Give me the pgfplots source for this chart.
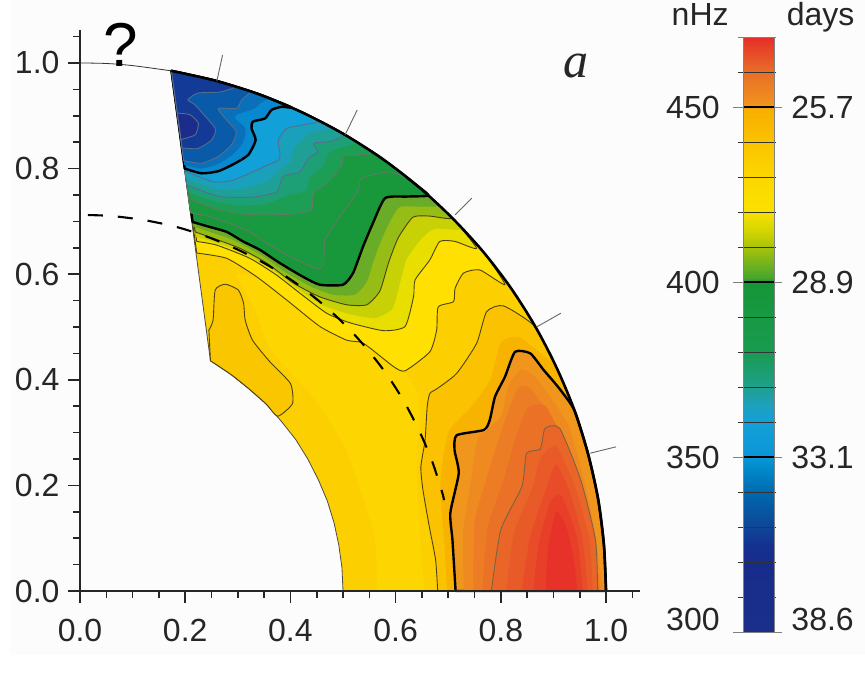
\documentclass[border=0pt]{standalone}
\usepackage{fontspec}
\setmainfont{Liberation Sans}
\newfontfamily\serifit{Liberation Serif}
\usepackage{pgfplots}
\pgfplotsset{compat=1.18}
\newcommand\lab{\fontsize{32}{34}\selectfont}
\definecolor{lnY}{RGB}{75,65,20}
\definecolor{lnG}{RGB}{100,120,100}
\definecolor{lnB}{RGB}{85,110,140}
\definecolor{lnR}{RGB}{120,100,70}
\pgfplotsset{
  thin contour/.style={draw=#1, line width=0.9pt, line join=round},
  thick contour/.style={draw=black, line width=2.4pt, line join=round},
  zone/.style={smooth, tension=0.35},
}
\begin{document}
\begin{tikzpicture}
\path[use as bounding box] (0,0) rectangle (865pt,683pt);
\fill[color={rgb,255:red,252;green,252;blue,252}] (10pt,28pt) rectangle (865pt,683pt);
\begin{axis}[
  at={(80pt,92pt)}, anchor=south west, scale only axis,
  width=559.7pt, height=561.3pt,
  xmin=0, xmax=1.064, ymin=0, ymax=1.063,
  axis x line=bottom, axis y line=left,
  axis line style={-, line width=2pt, color=black!85},
  tick align=outside, axis on top, clip=false,
  xtick={0,0.2,0.4,0.6,0.8,1.0}, ytick={0,0.2,0.4,0.6,0.8,1.0},
  minor xtick={0.05,0.1,0.15,0.25,0.3,0.35,0.45,0.5,0.55,0.65,0.7,0.75,0.85,0.9,0.95,1.05},
  minor ytick={0.05,0.1,0.15,0.25,0.3,0.35,0.45,0.5,0.55,0.65,0.7,0.75,0.85,0.9,0.95,1.05},
  major tick length=12pt, minor tick length=7pt,
  tick style={line width=1.6pt, color=black!85},
  /pgf/number format/assume math mode=true,
  /pgf/number format/fixed, /pgf/number format/fixed zerofill, /pgf/number format/precision=1,
  ticklabel style={font=\lab, color=black!85},
  xticklabel style={yshift=-13pt},
  yticklabel style={xshift=-5pt},
]
% whole wedge
\addplot[fill={rgb,255:red,252;green,207;blue,0}, draw=black!70, line width=0.8pt, line join=round] coordinates {
 (.5,0)(1,0)(.996,.087)(.985,.174)(.966,.259)(.940,.342)(.906,.423)(.866,.5)(.819,.574)(.766,.643)(.707,.707)(.643,.766)(.574,.819)(.5,.866)(.423,.906)(.342,.940)(.259,.966)(.174,.985)
 (.248,.436)(.287,.410)(.321,.383)(.354,.354)(.383,.321)(.410,.287)(.433,.25)(.453,.211)(.470,.171)(.483,.129)(.492,.087)(.498,.044)} --cycle;
% brighter yellow belt
\addplot[zone, fill={rgb,255:red,253;green,213;blue,0}, draw=none] coordinates {
 (.565,0)(.56,.10)(.53,.20)(.50,.28)(.44,.37)(.36,.46)(.33,.54)(.30,.60)(.42,.56)(.62,.41)(.645,.35)(.64,.24)(.645,.12)(.655,0)} --cycle;
% inner lobe 440
\addplot[zone, fill={rgb,255:red,249;green,198;blue,0}, thin contour=lnY] coordinates {
 (.245,.494)(.253,.513)(.257,.570)(.276,.581)(.301,.570)(.311,.545)(.314,.513)(.328,.475)(.361,.434)(.400,.393)(.404,.355)(.376,.331)(.354,.354)(.321,.383)(.287,.410)(.248,.436)} --cycle;
% 440
\addplot[zone, fill={rgb,255:red,250;green,194;blue,0}, thin contour=lnY] coordinates {
 (.680,0)(.676,.059)(.664,.122)(.652,.191)(.648,.235)(.656,.286)(.660,.349)(.665,.374)(.680,.384)(.716,.412)(.754,.469)(.773,.529)(.805,.540)(.866,.500)(.906,.423)(.940,.342)(.966,.259)(.985,.174)(.996,.087)(1,0)} --cycle;
% 445
\addplot[zone, fill={rgb,255:red,248;green,178;blue,0}, draw=none] coordinates {
 (.698,0)(.692,.10)(.685,.20)(.70,.30)(.745,.35)(.78,.40)(.80,.47)(.835,.48)(.906,.423)(.940,.342)(.966,.259)(.985,.174)(.996,.087)(1,0)} --cycle;
% 450
\addplot[zone, fill={rgb,255:red,241;green,150;blue,28}, thick contour] coordinates {
 (.714,0)(.708,.097)(.704,.148)(.720,.223)(.712,.267)(.716,.295)(.768,.305)(.779,.324)(.789,.368)(.808,.406)(.827,.453)(.856,.450)(.881,.419)(.91,.385)(.940,.342)(.966,.259)(.985,.174)(.996,.087)(1,0)} --cycle;
% 453, 455, 457
\addplot[zone, fill={rgb,255:red,239;green,138;blue,32}, draw=none] coordinates {
 (.730,0)(.728,.11)(.745,.22)(.757,.29)(.80,.33)(.815,.39)(.84,.42)(.87,.40)(.93,.31)(.97,.16)(.995,0)} --cycle;
\addplot[zone, fill={rgb,255:red,237;green,125;blue,36}, draw=none] coordinates {
 (.748,0)(.75,.13)(.775,.22)(.80,.30)(.83,.38)(.855,.385)(.90,.32)(.94,.23)(.975,.10)(.99,0)} --cycle;
\addplot[zone, fill={rgb,255:red,235;green,113;blue,38}, draw=none] coordinates {
 (.765,0)(.775,.12)(.805,.21)(.825,.28)(.85,.345)(.885,.35)(.925,.27)(.965,.13)(.987,0)} --cycle;
% 460
\addplot[zone, fill={rgb,255:red,233;green,102;blue,40}, thin contour=lnR] coordinates {
 (.782,0)(.800,.116)(.840,.198)(.849,.261)(.875,.269)(.884,.308)(.912,.308)(.952,.210)(.980,.097)(.984,0)} --cycle;
% 463 to 468
\addplot[zone, fill={rgb,255:red,232;green,90;blue,40}, draw=none] coordinates {
 (.81,0)(.825,.11)(.86,.195)(.875,.25)(.905,.275)(.94,.20)(.968,.10)(.975,0)} --cycle;
\addplot[zone, fill={rgb,255:red,232;green,76;blue,40}, draw=none] coordinates {
 (.84,0)(.855,.10)(.885,.19)(.905,.24)(.93,.19)(.955,.10)(.965,0)} --cycle;
\addplot[zone, fill={rgb,255:red,231;green,63;blue,40}, draw=none] coordinates {
 (.862,0)(.872,.09)(.895,.17)(.915,.18)(.945,.10)(.955,0)} --cycle;
\addplot[zone, fill={rgb,255:red,230;green,50;blue,40}, draw=none] coordinates {
 (.885,0)(.89,.08)(.905,.15)(.925,.12)(.94,.05)(.945,0)} --cycle;
% 430
\addplot[zone, fill={rgb,255:red,255;green,224;blue,0}, thin contour=lnY] coordinates {
 (.222,.640)(.279,.630)(.336,.595)(.393,.551)(.456,.501)(.507,.475)(.539,.469)(.596,.425)(.618,.417)(.665,.453)(.678,.494)(.681,.538)(.710,.548)(.713,.573)(.729,.602)(.760,.608)(.808,.580)
 (.766,.643)(.707,.707)(.643,.766)(.574,.819)(.5,.866)(.423,.906)(.342,.940)(.259,.966)(.174,.985)} --cycle;
% 420
\addplot[zone, fill={rgb,255:red,232;green,222;blue,0}, thin contour=lnY] coordinates {
 (.222,.662)(.260,.655)(.323,.630)(.374,.598)(.418,.564)(.469,.526)(.513,.508)(.577,.493)(.618,.501)(.634,.557)(.637,.589)(.665,.627)(.684,.662)(.713,.662)(.754,.649)
 (.707,.707)(.643,.766)(.574,.819)(.5,.866)(.423,.906)(.342,.940)(.259,.966)(.174,.985)} --cycle;
% 415
\addplot[zone, fill={rgb,255:red,200;green,208;blue,6}, draw=none] coordinates {
 (.220,.671)(.256,.661)(.313,.640)(.364,.610)(.412,.574)(.462,.541)(.510,.525)(.561,.517)(.594,.535)(.610,.590)(.621,.629)(.649,.667)(.674,.686)(.729,.684)
 (.707,.707)(.643,.766)(.574,.819)(.5,.866)(.423,.906)(.342,.940)(.259,.966)(.174,.985)} --cycle;
% 410
\addplot[zone, fill={rgb,255:red,150;green,188;blue,22}, thin contour=lnY] coordinates {
 (.219,.680)(.253,.668)(.304,.649)(.355,.621)(.406,.583)(.456,.557)(.507,.542)(.545,.542)(.570,.568)(.587,.623)(.605,.669)(.633,.708)(.665,.710)(.707,.707)
 (.643,.766)(.574,.819)(.5,.866)(.423,.906)(.342,.940)(.259,.966)(.174,.985)} --cycle;
% 405
\addplot[zone, fill={rgb,255:red,105;green,172;blue,40}, draw=none] coordinates {
 (.216,.690)(.247,.680)(.291,.665)(.348,.634)(.393,.602)(.440,.576)(.482,.561)(.522,.561)(.545,.585)(.562,.637)(.581,.683)(.606,.726)(.643,.728)(.683,.730)
 (.643,.766)(.574,.819)(.5,.866)(.423,.906)(.342,.940)(.259,.966)(.174,.985)} --cycle;
% 400
\addplot[zone, fill={rgb,255:red,24;green,152;blue,58}, thick contour] coordinates {
 (.214,.699)(.241,.691)(.279,.680)(.310,.662)(.342,.646)(.380,.621)(.424,.595)(.456,.580)(.500,.580)(.519,.602)(.538,.652)(.557,.697)(.580,.744)(.621,.747)(.662,.749)
 (.643,.766)(.574,.819)(.5,.866)(.423,.906)(.342,.940)(.259,.966)(.174,.985)} --cycle;
% 390
\addplot[zone, fill={rgb,255:red,25;green,154;blue,64}, thin contour=lnG] coordinates {
 (.210,.716)(.247,.709)(.285,.696)(.323,.680)(.361,.655)(.406,.630)(.450,.611)(.463,.617)(.466,.665)(.494,.709)(.513,.735)(.529,.759)(.536,.782)(.589,.794)(.624,.781)
 (.574,.819)(.5,.866)(.423,.906)(.342,.940)(.259,.966)(.174,.985)} --cycle;
% 380
\addplot[zone, fill={rgb,255:red,28;green,158;blue,84}, thin contour=lnG] coordinates {
 (.212,.741)(.253,.725)(.298,.715)(.342,.712)(.405,.714)(.440,.722)(.444,.753)(.469,.772)(.498,.806)(.501,.823)(.532,.826)(.553,.831)
 (.5,.866)(.423,.906)(.342,.940)(.259,.966)(.174,.985)} --cycle;
% 375
\addplot[zone, fill={rgb,255:red,30;green,160;blue,118}, draw=none] coordinates {
 (.207,.755)(.260,.736)(.314,.730)(.358,.734)(.396,.750)(.429,.758)(.439,.786)(.460,.802)(.471,.827)(.488,.837)(.526,.849)
 (.5,.866)(.423,.906)(.342,.940)(.259,.966)(.174,.985)} --cycle;
% 370
\addplot[zone, fill={rgb,255:red,30;green,160;blue,150}, thin contour=lnB] coordinates {
 (.203,.769)(.266,.747)(.329,.746)(.374,.756)(.386,.785)(.418,.794)(.434,.819)(.452,.832)(.444,.848)(.475,.851)(.501,.866)
 (.423,.906)(.342,.940)(.259,.966)(.174,.985)} --cycle;
% 365
\addplot[zone, fill={rgb,255:red,26;green,160;blue,186}, draw=none] coordinates {
 (.201,.782)(.260,.761)(.310,.762)(.358,.778)(.381,.800)(.399,.812)(.406,.836)(.422,.854)(.434,.866)(.479,.878)
 (.423,.906)(.342,.940)(.259,.966)(.174,.985)} --cycle;
% 360
\addplot[zone, fill={rgb,255:red,18;green,160;blue,216}, thin contour=lnB] coordinates {
 (.200,.795)(.253,.775)(.291,.778)(.342,.800)(.377,.816)(.380,.829)(.377,.854)(.393,.876)(.425,.883)(.456,.890)
 (.423,.906)(.342,.940)(.259,.966)(.174,.985)} --cycle;
% 350
\addplot[zone, fill={rgb,255:red,8;green,136;blue,206}, thick contour] coordinates {
 (.199,.800)(.231,.791)(.263,.795)(.295,.810)(.320,.826)(.334,.854)(.326,.876)(.329,.889)(.352,.895)(.364,.911)(.383,.917)(.402,.916)
 (.342,.940)(.259,.966)(.174,.985)} --cycle;
% 345
\addplot[zone, fill={rgb,255:red,10;green,112;blue,186}, draw=none] coordinates {
 (.198,.807)(.231,.80)(.263,.809)(.292,.828)(.309,.848)(.315,.875)(.295,.895)(.300,.903)(.330,.913)(.345,.925)(.362,.934)
 (.342,.940)(.259,.966)(.174,.985)} --cycle;
% 340
\addplot[zone, fill={rgb,255:red,10;green,90;blue,170}, thin contour=lnB] coordinates {
 (.197,.815)(.231,.810)(.263,.823)(.288,.845)(.297,.870)(.276,.895)(.263,.914)(.298,.914)(.307,.930)(.322,.947)
 (.259,.966)(.174,.985)} --cycle;
% 330
\addplot[zone, fill={rgb,255:red,18;green,58;blue,150}, thin contour=lnB] coordinates {
 (.194,.839)(.224,.838)(.250,.854)(.257,.876)(.219,.920)(.205,.930)(.224,.943)(.266,.945)(.295,.955)
 (.259,.966)(.174,.985)} --cycle;
% 320
\addplot[zone, fill={rgb,255:red,27;green,44;blue,138}, thin contour=lnB] coordinates {
 (.192,.855)(.219,.864)(.225,.886)(.209,.902)(.185,.905)} --cycle;
% rim and continuation
\addplot[black, line width=2.6pt, smooth, line cap=round] coordinates {
 (1,0)(.996,.087)(.985,.174)(.966,.259)(.940,.342)(.906,.423)(.866,.5)(.819,.574)(.766,.643)(.707,.707)(.643,.766)(.574,.819)(.5,.866)(.423,.906)(.342,.940)(.259,.966)(.174,.985)};
\addplot[black!80, line width=0.8pt, smooth] coordinates {(0,1)(.05,.999)(.10,.995)(.174,.985)};
% tachocline
\addplot[black, line width=2.1pt, smooth, dash pattern=on 15pt off 15pt] coordinates {
 (.015,.712)(.062,.710)(.124,.702)(.185,.689)(.244,.670)(.301,.646)(.357,.617)(.409,.584)(.458,.546)(.504,.504)(.546,.458)(.584,.409)(.617,.357)(.646,.301)(.670,.244)(.689,.185)(.692,.172)};
% latitude marks
\addplot[black!60, line width=0.9pt] coordinates {(.260,.965)(.271,1.015)};
\addplot[black!60, line width=0.9pt] coordinates {(.504,.864)(.527,.911)};
\addplot[black!60, line width=0.9pt] coordinates {(.713,.712)(.745,.744)};
\addplot[black!60, line width=0.9pt] coordinates {(.868,.5)(.914,.526)};
\addplot[black!60, line width=0.9pt] coordinates {(.970,.261)(1.019,.273)};
\node[font=\fontsize{62}{64}\selectfont] at (axis cs:.078,1.034) {?};
\node[font=\serifit\itshape\fontsize{50}{52}\selectfont, color=black!85] at (axis cs:.943,.995) {a};
\end{axis}
\begin{axis}[
  at={(743pt,51pt)}, anchor=south west, scale only axis,
  width=31pt, height=595pt,
  xmin=0, xmax=1, ymin=300, ymax=470,
  hide axis, clip=false, unbounded coords=jump,
  colormap={sun}{rgb255(300)=(26,46,138) rgb255(320)=(24,44,140) rgb255(325)=(20,50,145) rgb255(330)=(14,70,150) rgb255(340)=(0,105,175) rgb255(346)=(0,135,200) rgb255(350)=(10,150,215) rgb255(360)=(20,160,215) rgb255(365)=(30,160,190) rgb255(370)=(30,160,140) rgb255(380)=(25,155,80) rgb255(400)=(22,150,55) rgb255(401)=(70,165,45) rgb255(410)=(170,195,10) rgb255(415)=(215,215,0) rgb255(420)=(250,225,0) rgb255(430)=(252,215,0) rgb255(440)=(250,195,0) rgb255(449)=(248,175,0) rgb255(451)=(240,145,30) rgb255(460)=(232,110,40) rgb255(470)=(230,45,40)},
  point meta min=300, point meta max=470,
]
\addplot[surf, shader=interp, mesh/cols=2, mesh/ordering=x varies, point meta=y] coordinates {
(0,300)(1,300)(0,305)(1,305)(0,310)(1,310)(0,315)(1,315)(0,320)(1,320)(0,322)(1,322)(0,324)(1,324)(0,326)(1,326)(0,328)(1,328)(0,330)(1,330)
(0,332)(1,332)(0,334)(1,334)(0,336)(1,336)(0,338)(1,338)(0,340)(1,340)(0,342)(1,342)(0,344)(1,344)(0,346)(1,346)(0,348)(1,348)(0,350)(1,350)
(0,352)(1,352)(0,354)(1,354)(0,356)(1,356)(0,358)(1,358)(0,360)(1,360)(0,362)(1,362)(0,364)(1,364)(0,366)(1,366)(0,368)(1,368)(0,370)(1,370)
(0,372)(1,372)(0,374)(1,374)(0,376)(1,376)(0,378)(1,378)(0,380)(1,380)(0,385)(1,385)(0,390)(1,390)(0,395)(1,395)(0,400)(1,400)
(0,401)(1,401)(0,403)(1,403)(0,405)(1,405)(0,407)(1,407)(0,409)(1,409)(0,411)(1,411)(0,413)(1,413)(0,415)(1,415)(0,417)(1,417)(0,419)(1,419)(0,421)(1,421)
(0,425)(1,425)(0,430)(1,430)(0,435)(1,435)(0,440)(1,440)(0,445)(1,445)(0,449)(1,449)(0,451)(1,451)(0,453)(1,453)(0,455)(1,455)(0,457)(1,457)(0,459)(1,459)
(0,461)(1,461)(0,463)(1,463)(0,465)(1,465)(0,467)(1,467)(0,470)(1,470)};
\addplot[black!50, line width=0.8pt] coordinates {(-.17,470)(1.08,470)};
\addplot[black!80, line width=0.9pt] coordinates {(-.17,310)(1.08,310)(nan,nan)(-.17,320)(1.08,320)(nan,nan)(-.17,330)(1.08,330)(nan,nan)(-.17,340)(1.08,340)(nan,nan)(-.17,360)(1.08,360)(nan,nan)(-.17,370)(1.08,370)(nan,nan)(-.17,380)(1.08,380)(nan,nan)(-.17,390)(1.08,390)(nan,nan)(-.17,410)(1.08,410)(nan,nan)(-.17,420)(1.08,420)(nan,nan)(-.17,430)(1.08,430)(nan,nan)(-.17,440)(1.08,440)(nan,nan)(-.17,460)(1.08,460)};
\addplot[black!50, line width=0.9pt] coordinates {(-.32,300)(1.25,300)(nan,nan)(-.32,350)(1.25,350)(nan,nan)(-.32,400)(1.25,400)(nan,nan)(-.32,450)(1.25,450)};
\addplot[black, line width=2pt] coordinates {(0,350)(1,350)(nan,nan)(0,400)(1,400)(nan,nan)(0,450)(1,450)};
\addplot[black!50, line width=0.7pt] coordinates {(0,300)(0,470)(nan,nan)(1,300)(1,470)};
\node[anchor=east, font=\lab, color=black!85] at (axis cs:-.64,303.5) {300};
\node[anchor=east, font=\lab, color=black!85] at (axis cs:-.64,350) {350};
\node[anchor=east, font=\lab, color=black!85] at (axis cs:-.64,400) {400};
\node[anchor=east, font=\lab, color=black!85] at (axis cs:-.64,450) {450};
\node[anchor=west, font=\lab, color=black!85] at (axis cs:1.45,303.5) {38.6};
\node[anchor=west, font=\lab, color=black!85] at (axis cs:1.45,350) {33.1};
\node[anchor=west, font=\lab, color=black!85] at (axis cs:1.45,400) {28.9};
\node[anchor=west, font=\lab, color=black!85] at (axis cs:1.45,450) {25.7};
\node[anchor=base east, font=\lab, color=black!85] at (axis cs:-.35,473.3) {nHz};
\node[anchor=base west, font=\lab, color=black!85] at (axis cs:1.3,473.3) {days};
\end{axis}
\end{tikzpicture}
\end{document}
